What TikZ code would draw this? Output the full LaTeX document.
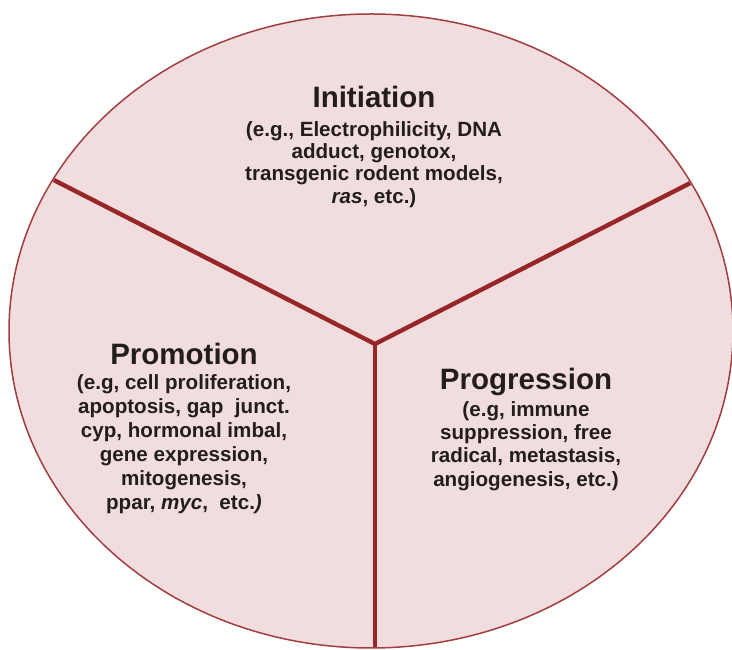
\documentclass[tikz,border=0pt]{standalone}
\usepackage{fontspec}
\setmainfont{Liberation Sans}
\definecolor{pinkfill}{RGB}{242,221,222}
\definecolor{rimred}{RGB}{160,62,64}
\definecolor{divred}{RGB}{150,38,40}
\definecolor{txt}{RGB}{34,30,30}
\tikzset{
  rim/.style={draw=rimred, line width=1.5pt, fill=pinkfill},
  divider/.style={draw=divred, line width=4.4pt},
  titletext/.style={font=\fontsize{29.5}{32}\selectfont\bfseries, text=txt, inner sep=0pt, anchor=base},
  bodytext/.style={text=txt, inner sep=0pt, align=center, anchor=north},
}
\begin{document}
\begin{tikzpicture}[x=1pt,y=1pt]
\useasboundingbox (0,0) rectangle (732,650);
% ellipse
\path[rim] (371,319) ellipse [x radius=362, y radius=317];
\coordinate (J) at (375,306);
\coordinate (L) at (40,477);
\coordinate (R) at (710,477);
\coordinate (B) at (375,-5);
\begin{scope}
  \clip (371,319) ellipse [x radius=361, y radius=316];
  \draw[divider] (L) -- (J) -- (R);
  \draw[divider] (J) -- (B);
\end{scope}
% Initiation
\node[titletext] (initT) at (374,542) {Initiation};
\node[bodytext, font=\fontsize{20.6}{22.4}\selectfont\bfseries] (initB) at (374,529)
  {(e.g., Electrophilicity, DNA\\adduct, genotox,\\transgenic rodent models,\\\textit{ras}, etc.)};
% Promotion
\node[titletext] (promT) at (184,285) {Promotion};
\node[bodytext, font=\fontsize{20.6}{24}\selectfont\bfseries] (promB) at (184,276)
  {(e.g, cell proliferation,\\apoptosis, gap\ \ junct.\\cyp, hormonal imbal,\\gene expression,\\mitogenesis,\\ppar, \textit{myc},\ \ etc.\textit{)}};
% Progression
\node[titletext] (progT) at (526,260) {Progression};
\node[bodytext, font=\fontsize{20.6}{23.4}\selectfont\bfseries] (progB) at (526,249)
  {(e.g, immune\\suppression, free\\radical, metastasis,\\angiogenesis, etc.)};
\end{tikzpicture}
\end{document}
